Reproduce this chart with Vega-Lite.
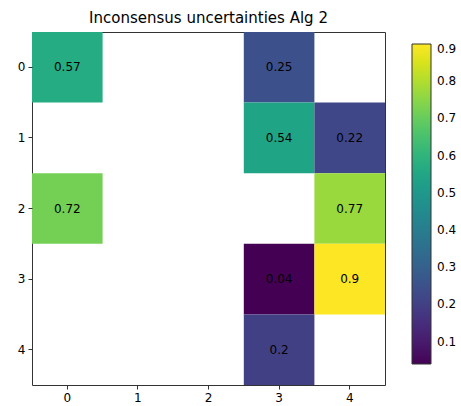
{
  "$schema": "https://vega.github.io/schema/vega-lite/v6.json",
  "width": 353,
  "height": 353,
  "autosize": {"type": "none"},
  "padding": {"left": 32, "top": 32, "right": 76, "bottom": 21},
  "background": "white",
  "title": {"text": "Inconsensus uncertainties Alg 2", "font": "DejaVu Sans", "fontSize": 15, "fontWeight": "normal", "color": "#000", "offset": 6},
  "config": {
    "view": {"stroke": "#333", "strokeWidth": 1},
    "axis": {"labelFont": "DejaVu Sans", "labelFontSize": 12, "labelColor": "#000", "tickColor": "#333", "tickSize": 4, "domain": false, "grid": false, "labelPadding": 3}
  },
  "data": {"values": [
    {"row": 0, "col": 0, "value": 0.57},
    {"row": 0, "col": 3, "value": 0.25},
    {"row": 1, "col": 3, "value": 0.54},
    {"row": 1, "col": 4, "value": 0.22},
    {"row": 2, "col": 0, "value": 0.72},
    {"row": 2, "col": 4, "value": 0.77},
    {"row": 3, "col": 3, "value": 0.04},
    {"row": 3, "col": 4, "value": 0.9},
    {"row": 4, "col": 3, "value": 0.2}
  ]},
  "encoding": {
    "x": {"field": "col", "type": "ordinal", "scale": {"domain": [0, 1, 2, 3, 4], "paddingInner": 0, "paddingOuter": 0}, "axis": {"title": null, "labelAngle": 0}},
    "y": {"field": "row", "type": "ordinal", "scale": {"domain": [0, 1, 2, 3, 4], "paddingInner": 0, "paddingOuter": 0}, "axis": {"title": null}}
  },
  "layer": [
    {
      "mark": {"type": "rect"},
      "encoding": {
        "color": {"field": "value", "type": "quantitative", "scale": {"scheme": "viridis", "domain": [0.04, 0.9]},
          "legend": {"title": null, "orient": "none", "legendX": 380, "legendY": 12, "direction": "vertical", "gradientLength": 320, "gradientThickness": 19, "gradientStrokeColor": "#333", "gradientStrokeWidth": 1, "values": [0.1, 0.2, 0.3, 0.4, 0.5, 0.6, 0.7, 0.8, 0.9], "labelFont": "DejaVu Sans", "labelFontSize": 12, "labelColor": "#000", "labelOffset": 6, "labelOverlap": false}}
      }
    },
    {
      "mark": {"type": "text", "font": "DejaVu Sans", "fontSize": 12, "color": "#000"},
      "encoding": {"text": {"field": "value", "type": "quantitative"}}
    }
  ]
}
